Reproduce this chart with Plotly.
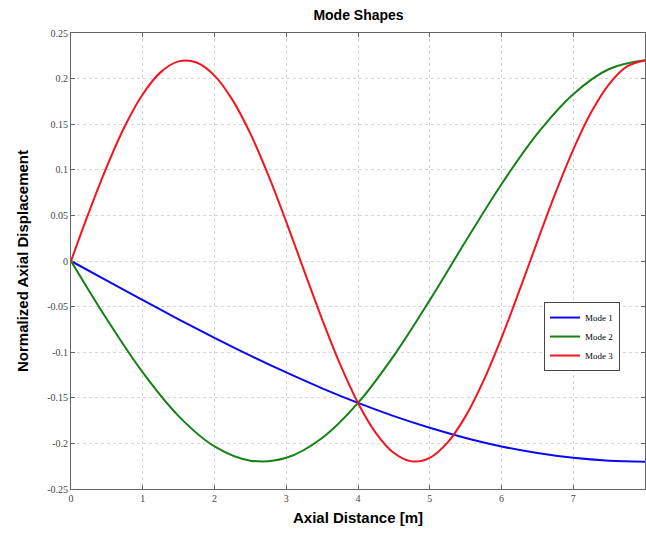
import plotly.graph_objects as go

x_coarse = [0, 0.5, 1, 1.5, 2, 2.5, 3, 3.5, 4, 4.5, 5, 5.5, 6, 6.5, 7, 7.5, 8]
mode1 = [0, -0.0216, -0.0429, -0.0639, -0.0842, -0.1037, -0.1222, -0.1396, -0.1556,
         -0.1701, -0.1829, -0.1940, -0.2033, -0.2105, -0.2158, -0.2189, -0.22]
mode2 = [0, -0.0639, -0.1222, -0.1701, -0.2033, -0.2189, -0.2158, -0.1940, -0.1556,
         -0.1037, -0.0429, 0.0216, 0.0842, 0.1396, 0.1829, 0.2105, 0.22]

x_fine = [0, 0.25, 0.5, 0.75, 1, 1.25, 1.5, 1.75, 2, 2.25, 2.5, 2.75, 3, 3.25, 3.5, 3.75,
          4, 4.25, 4.5, 4.75, 5, 5.25, 5.5, 5.75, 6, 6.25, 6.5, 6.75, 7, 7.25, 7.5, 7.75, 8]
mode3 = [0, 0.0535, 0.1037, 0.1478, 0.1829, 0.2071, 0.2189, 0.2176, 0.2033, 0.1767,
         0.1396, 0.0941, 0.0429, -0.0108, -0.0639, -0.1131, -0.1556, -0.1887, -0.2105,
         -0.2197, -0.2158, -0.1989, -0.1701, -0.1311, -0.0842, -0.0323, 0.0216, 0.0741,
         0.1222, 0.1630, 0.1940, 0.2134, 0.22]

series = [
    ("Mode 1", x_coarse, mode1, "rgb(10,10,240)"),
    ("Mode 2", x_coarse, mode2, "rgb(20,130,20)"),
    ("Mode 3", x_fine, mode3, "rgb(245,20,30)"),
]

x_ticks = [0, 1, 2, 3, 4, 5, 6, 7, 8]
y_ticks = [-0.25, -0.2, -0.15, -0.1, -0.05, 0, 0.05, 0.1, 0.15, 0.2, 0.25]
y_tick_labels = ["-0.25", "-0.2", "-0.15", "-0.1", "-0.05", "0", "0.05", "0.1", "0.15", "0.2", "0.25"]

fig = go.Figure()
for name, xs, ys, col in series:
    fig.add_trace(go.Scatter(x=xs, y=ys, mode="lines", name=name,
                             line=dict(color=col, width=2, shape="spline", smoothing=1.0)))

axis_common = dict(
    showgrid=True, gridcolor="rgb(215,215,215)", griddash="dot", gridwidth=1,
    showline=True, linecolor="rgb(100,100,100)", linewidth=1, mirror="allticks",
    ticks="inside", ticklen=4, tickcolor="rgb(100,100,100)",
    tickfont=dict(family="Liberation Serif", size=10, color="rgb(70,70,70)"),
    zeroline=False,
)

fig.update_layout(
    width=646, height=533,
    margin=dict(l=71, r=1, t=33, b=44),
    paper_bgcolor="white", plot_bgcolor="white",
    title=dict(text="<b>Mode Shapes</b>", x=0.555, xanchor="center", y=0.971, yanchor="middle",
               font=dict(family="Liberation Sans", size=14, color="black")),
    xaxis=dict(range=[0, 8], tickvals=x_ticks, ticktext=[str(v) for v in x_ticks],
               title=dict(text="<b>Axial Distance [m]</b>", standoff=9,
                          font=dict(family="Liberation Sans", size=15, color="black")),
               **axis_common),
    yaxis=dict(range=[-0.25, 0.25], tickvals=y_ticks, ticktext=y_tick_labels,
               title=dict(text="<b>Normalized Axial Displacement</b>", standoff=14,
                          font=dict(family="Liberation Sans", size=15, color="black")),
               **axis_common),
    legend=dict(x=0.824, y=0.41, xanchor="left", yanchor="top",
                bgcolor="white", bordercolor="rgb(70,70,70)", borderwidth=1,
                font=dict(family="Liberation Serif", size=9, color="black"),
                tracegroupgap=0, itemwidth=30),
    showlegend=True,
)

fig.write_html("out.html")
